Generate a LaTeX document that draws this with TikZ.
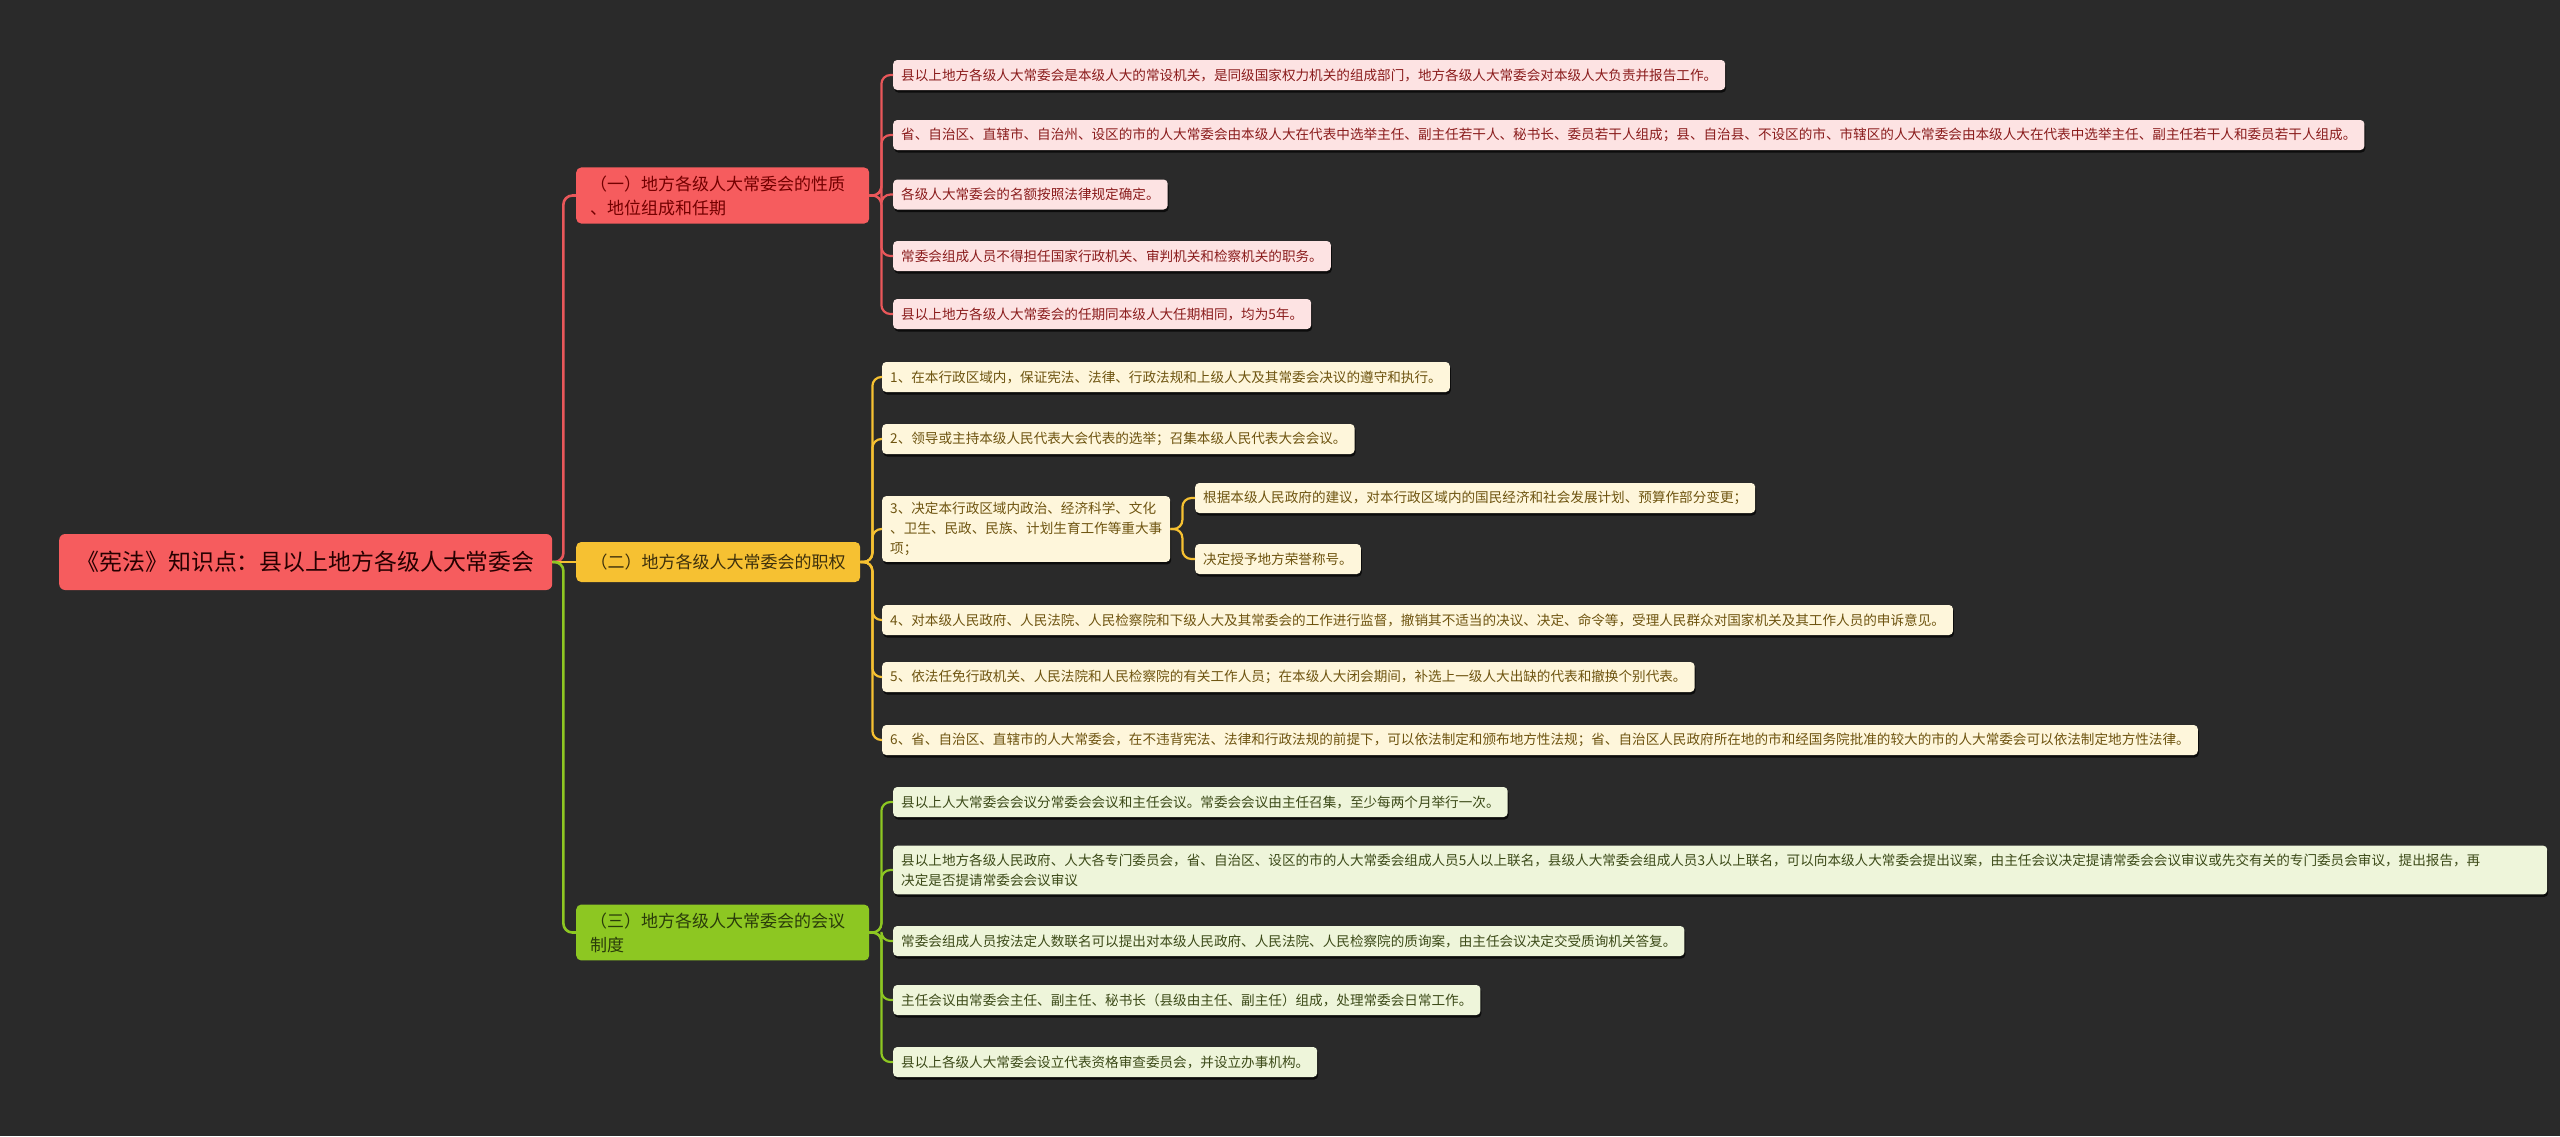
\documentclass[tikz,border=0pt]{standalone}
\usepackage{fontspec}
\setmainfont{Noto Sans CJK SC}
\usetikzlibrary{shadows}
\definecolor{bg}{HTML}{2A2A2A}
\definecolor{rootred}{HTML}{F65C5E}
\definecolor{redline}{HTML}{E9575A}
\definecolor{redleaf}{HTML}{FDE3E3}
\definecolor{redink}{HTML}{8A1C1C}
\definecolor{yel}{HTML}{F6C132}
\definecolor{yelleaf}{HTML}{FEF6DB}
\definecolor{yelink}{HTML}{6E5410}
\definecolor{grn}{HTML}{8DC722}
\definecolor{grnleaf}{HTML}{EEF5DA}
\definecolor{grnink}{HTML}{3C4A18}
\tikzset{
  rootbox/.style={fill=rootred, rounded corners=6pt, text=black!85!red, minimum width=493pt, minimum height=56pt,
    font=\fontsize{22.9}{28}\selectfont, anchor=west},
  topic/.style={rounded corners=5pt, align=left, inner xsep=14pt, inner ysep=8pt, minimum height=40pt,
    font=\fontsize{17}{24}\selectfont, anchor=west},
  leaf/.style={rounded corners=4pt, align=left, inner xsep=8pt, inner ysep=6pt, minimum height=30pt,
    font=\fontsize{13.6}{20}\selectfont, anchor=west,
    drop shadow={shadow xshift=1pt, shadow yshift=-2.5pt, fill=black, opacity=0.7}},
  rleaf/.style={leaf, fill=redleaf, text=redink},
  yleaf/.style={leaf, fill=yelleaf, text=yelink},
  gleaf/.style={leaf, fill=grnleaf, text=grnink},
  link/.style={line width=2.6pt, rounded corners=9pt},
}
\begin{document}
\begin{tikzpicture}[x=1pt, y=-1pt]
  \useasboundingbox (0,0) rectangle (2560,1136);
  \fill[bg] (0,0) rectangle (2560,1136);

  \node[rootbox] (root) at (59,562) {《宪法》知识点：县以上地方各级人大常委会};

  \node[topic, fill=rootred, text=red!45!black, text width=265pt] (b1) at (576,195.5)
    {（一）地方各级人大常委会的性质\\、地位组成和任期};
  \node[topic, fill=yel, text=yel!25!black, minimum width=284pt] (b2) at (576,562)
    {（二）地方各级人大常委会的职权};
  \node[topic, fill=grn, text=grn!30!black, text width=265pt] (b3) at (576,932.5)
    {（三）地方各级人大常委会的会议\\制度};

  % (一)
  \node[rleaf] (r1) at (893,75) {县以上地方各级人大常委会是本级人大的常设机关，是同级国家权力机关的组成部门，地方各级人大常委会对本级人大负责并报告工作。};
  \node[rleaf] (r2) at (893,135) {省、自治区、直辖市、自治州、设区的市的人大常委会由本级人大在代表中选举主任、副主任若干人、秘书长、委员若干人组成；县、自治县、不设区的市、市辖区的人大常委会由本级人大在代表中选举主任、副主任若干人和委员若干人组成。};
  \node[rleaf] (r3) at (893,194.5) {各级人大常委会的名额按照法律规定确定。};
  \node[rleaf] (r4) at (893,256) {常委会组成人员不得担任国家行政机关、审判机关和检察机关的职务。};
  \node[rleaf] (r5) at (893,314) {县以上地方各级人大常委会的任期同本级人大任期相同，均为5年。};

  % (二)
  \node[yleaf] (y1) at (882,377) {1、在本行政区域内，保证宪法、法律、行政法规和上级人大及其常委会决议的遵守和执行。};
  \node[yleaf] (y2) at (882,439) {2、领导或主持本级人民代表大会代表的选举；召集本级人民代表大会会议。};
  \node[yleaf] (y3) at (882,529) {3、决定本行政区域内政治、经济科学、文化\\、卫生、民政、民族、计划生育工作等重大事\\项；};
  \node[yleaf] (y3a) at (1195,498) {根据本级人民政府的建议，对本行政区域内的国民经济和社会发展计划、预算作部分变更；};
  \node[yleaf] (y3b) at (1195,559) {决定授予地方荣誉称号。};
  \node[yleaf] (y4) at (882,620) {4、对本级人民政府、人民法院、人民检察院和下级人大及其常委会的工作进行监督，撤销其不适当的决议、决定、命令等，受理人民群众对国家机关及其工作人员的申诉意见。};
  \node[yleaf] (y5) at (882,677) {5、依法任免行政机关、人民法院和人民检察院的有关工作人员；在本级人大闭会期间，补选上一级人大出缺的代表和撤换个别代表。};
  \node[yleaf] (y6) at (882,740) {6、省、自治区、直辖市的人大常委会，在不违背宪法、法律和行政法规的前提下，可以依法制定和颁布地方性法规；省、自治区人民政府所在地的市和经国务院批准的较大的市的人大常委会可以依法制定地方性法律。};

  % (三)
  \node[gleaf] (g1) at (893,802) {县以上人大常委会会议分常委会会议和主任会议。常委会会议由主任召集，至少每两个月举行一次。};
  \node[gleaf, inner ysep=8pt, text width=1638pt] (g2) at (893,870) {县以上地方各级人民政府、人大各专门委员会，省、自治区、设区的市的人大常委会组成人员5人以上联名，县级人大常委会组成人员3人以上联名，可以向本级人大常委会提出议案，由主任会议决定提请常委会会议审议或先交有关的专门委员会审议，提出报告，再\\决定是否提请常委会会议审议};
  \node[gleaf] (g3) at (893,941) {常委会组成人员按法定人数联名可以提出对本级人民政府、人民法院、人民检察院的质询案，由主任会议决定交受质询机关答复。};
  \node[gleaf] (g4) at (893,1000) {主任会议由常委会主任、副主任、秘书长（县级由主任、副主任）组成，处理常委会日常工作。};
  \node[gleaf] (g5) at (893,1062) {县以上各级人大常委会设立代表资格审查委员会，并设立办事机构。};

  % connectors
  \draw[link, redline] (root.east) -- ++(11,0) |- (b1.west);
  \draw[link, yel] (root.east) -- (b2.west);
  \draw[link, grn] (root.east) -- ++(11,0) |- (b3.west);
  \foreach \n in {r1,r2,r3,r4,r5}
    \draw[link, redline, line width=2.2pt] (b1.east) -- ++(12,0) |- (\n.west);
  \foreach \n in {y1,y2,y3,y4,y5,y6}
    \draw[link, yel, line width=2.2pt] (b2.east) -- ++(12,0) |- (\n.west);
  \foreach \n in {y3a,y3b}
    \draw[link, yel, line width=2.2pt] (y3.east) -- ++(12,0) |- (\n.west);
  \foreach \n in {g1,g2,g3,g4,g5}
    \draw[link, grn, line width=2.2pt] (b3.east) -- ++(12,0) |- (\n.west);
\end{tikzpicture}
\end{document}
